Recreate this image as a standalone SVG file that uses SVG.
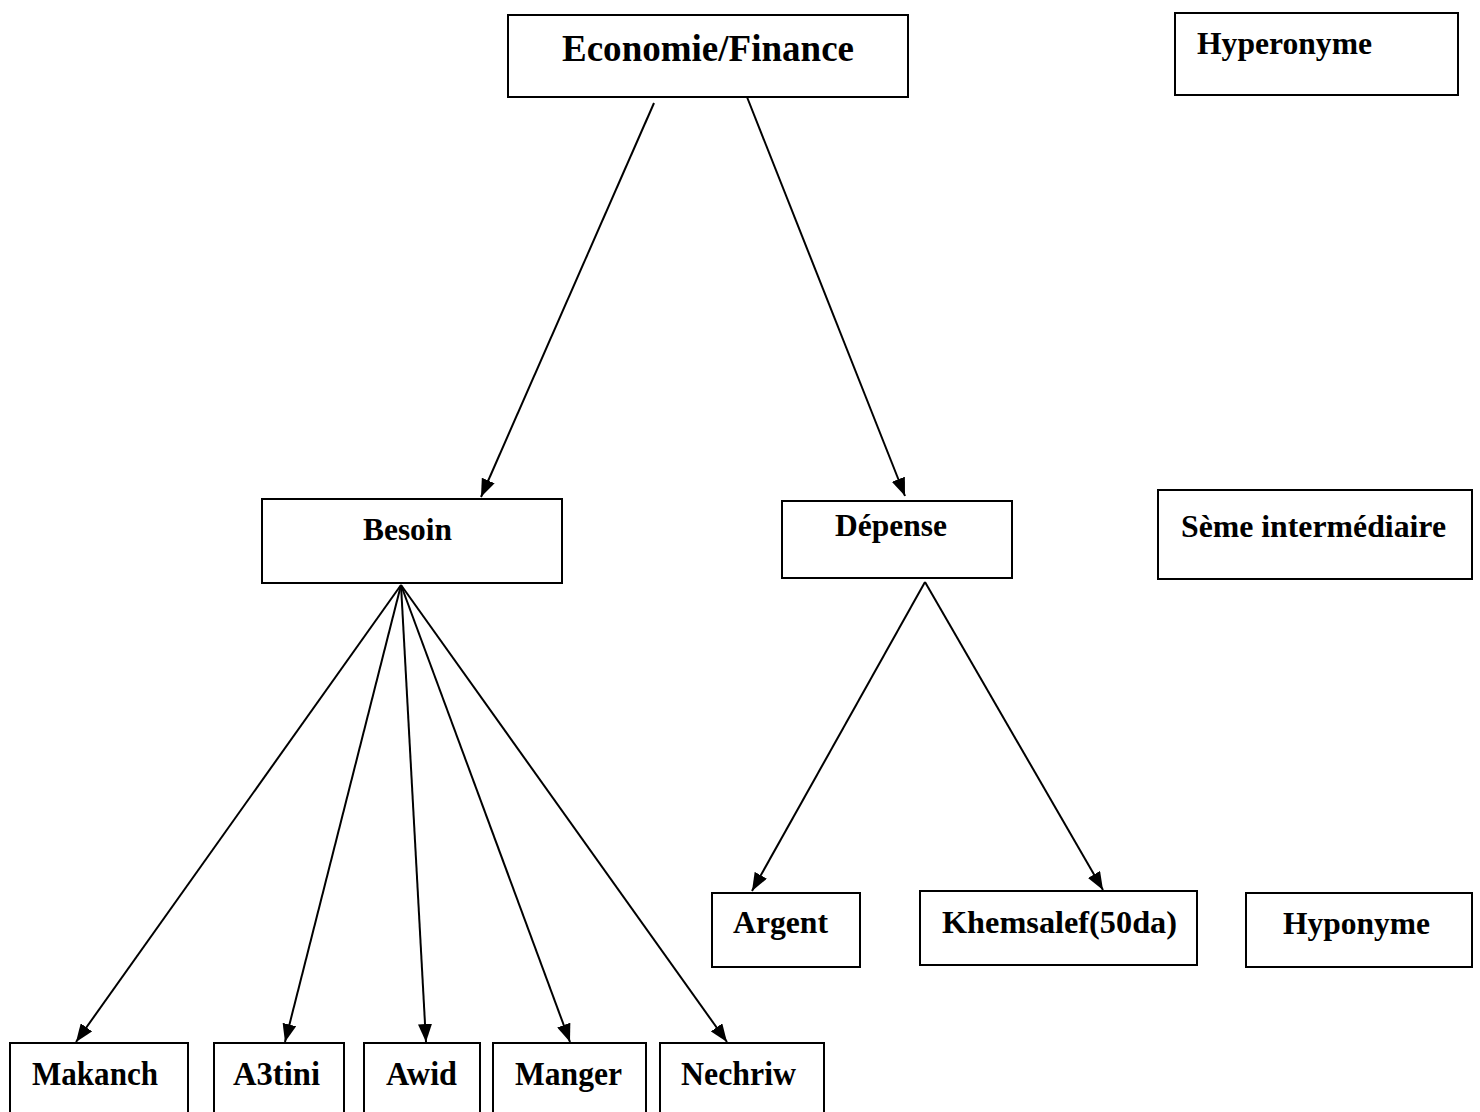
<svg xmlns="http://www.w3.org/2000/svg" width="1480" height="1112" viewBox="0 0 1480 1112">
<style>
.box{fill:#fff;stroke:#000;stroke-width:2}
.t{font-family:"Liberation Serif","Times New Roman",serif;font-weight:bold;font-size:32px;fill:#000}
.big{font-size:37px}
.lg{font-size:33px}
.c{stroke:#000;stroke-width:2;fill:none;marker-end:url(#ah)}
</style>
<defs>
<marker id="ah" viewBox="0 0 10 10" refX="10" refY="5" markerWidth="18" markerHeight="14" markerUnits="userSpaceOnUse" orient="auto" preserveAspectRatio="none">
<path d="M0,0 L10,5 L0,10 z" fill="#000"/>
</marker>
</defs>
<rect width="1480" height="1112" fill="#fff"/>
<g id="connectors">
<line class="c" x1="654" y1="103" x2="481" y2="497"/>
<line class="c" x1="747" y1="97" x2="905" y2="496"/>
<line class="c" x1="401" y1="585" x2="76" y2="1042"/>
<line class="c" x1="401" y1="585" x2="285" y2="1042"/>
<line class="c" x1="401" y1="585" x2="426" y2="1042"/>
<line class="c" x1="401" y1="585" x2="570" y2="1042"/>
<line class="c" x1="401" y1="585" x2="727" y2="1042"/>
<line class="c" x1="925" y1="582" x2="752" y2="891"/>
<line class="c" x1="925" y1="582" x2="1103" y2="890"/>
</g>
<g id="economie">
<rect class="box" x="508" y="15" width="400" height="82"/>
<text class="t big" x="562" y="61" textLength="292" lengthAdjust="spacingAndGlyphs">Economie/Finance</text>
</g>
<g id="hyperonyme">
<rect class="box" x="1175" y="13" width="283" height="82"/>
<text class="t" x="1197" y="54" textLength="175" lengthAdjust="spacingAndGlyphs">Hyperonyme</text>
</g>
<g id="besoin">
<rect class="box" x="262" y="499" width="300" height="84"/>
<text class="t" x="363" y="540" textLength="89" lengthAdjust="spacingAndGlyphs">Besoin</text>
</g>
<g id="depense">
<rect class="box" x="782" y="501" width="230" height="77"/>
<text class="t" x="835" y="536" textLength="112" lengthAdjust="spacingAndGlyphs">Dépense</text>
</g>
<g id="seme">
<rect class="box" x="1158" y="490" width="314" height="89"/>
<text class="t" x="1181" y="537" textLength="265" lengthAdjust="spacingAndGlyphs">Sème intermédiaire</text>
</g>
<g id="argent">
<rect class="box" x="712" y="893" width="148" height="74"/>
<text class="t" x="733" y="933" textLength="95" lengthAdjust="spacingAndGlyphs">Argent</text>
</g>
<g id="khemsalef">
<rect class="box" x="920" y="891" width="277" height="74"/>
<text class="t" x="942" y="933" textLength="235" lengthAdjust="spacingAndGlyphs">Khemsalef(50da)</text>
</g>
<g id="hyponyme">
<rect class="box" x="1246" y="893" width="226" height="74"/>
<text class="t" x="1283" y="934" textLength="147" lengthAdjust="spacingAndGlyphs">Hyponyme</text>
</g>
<g id="makanch">
<rect class="box" x="10" y="1043" width="178" height="80"/>
<text class="t lg" x="32" y="1085" textLength="126" lengthAdjust="spacingAndGlyphs">Makanch</text>
</g>
<g id="a3tini">
<rect class="box" x="214" y="1043" width="130" height="80"/>
<text class="t lg" x="233" y="1085" textLength="87" lengthAdjust="spacingAndGlyphs">A3tini</text>
</g>
<g id="awid">
<rect class="box" x="364" y="1043" width="116" height="80"/>
<text class="t lg" x="386" y="1085" textLength="71" lengthAdjust="spacingAndGlyphs">Awid</text>
</g>
<g id="manger">
<rect class="box" x="493" y="1043" width="153" height="80"/>
<text class="t lg" x="515" y="1085" textLength="107" lengthAdjust="spacingAndGlyphs">Manger</text>
</g>
<g id="nechriw">
<rect class="box" x="660" y="1043" width="164" height="80"/>
<text class="t lg" x="681" y="1085" textLength="115" lengthAdjust="spacingAndGlyphs">Nechriw</text>
</g>
</svg>
